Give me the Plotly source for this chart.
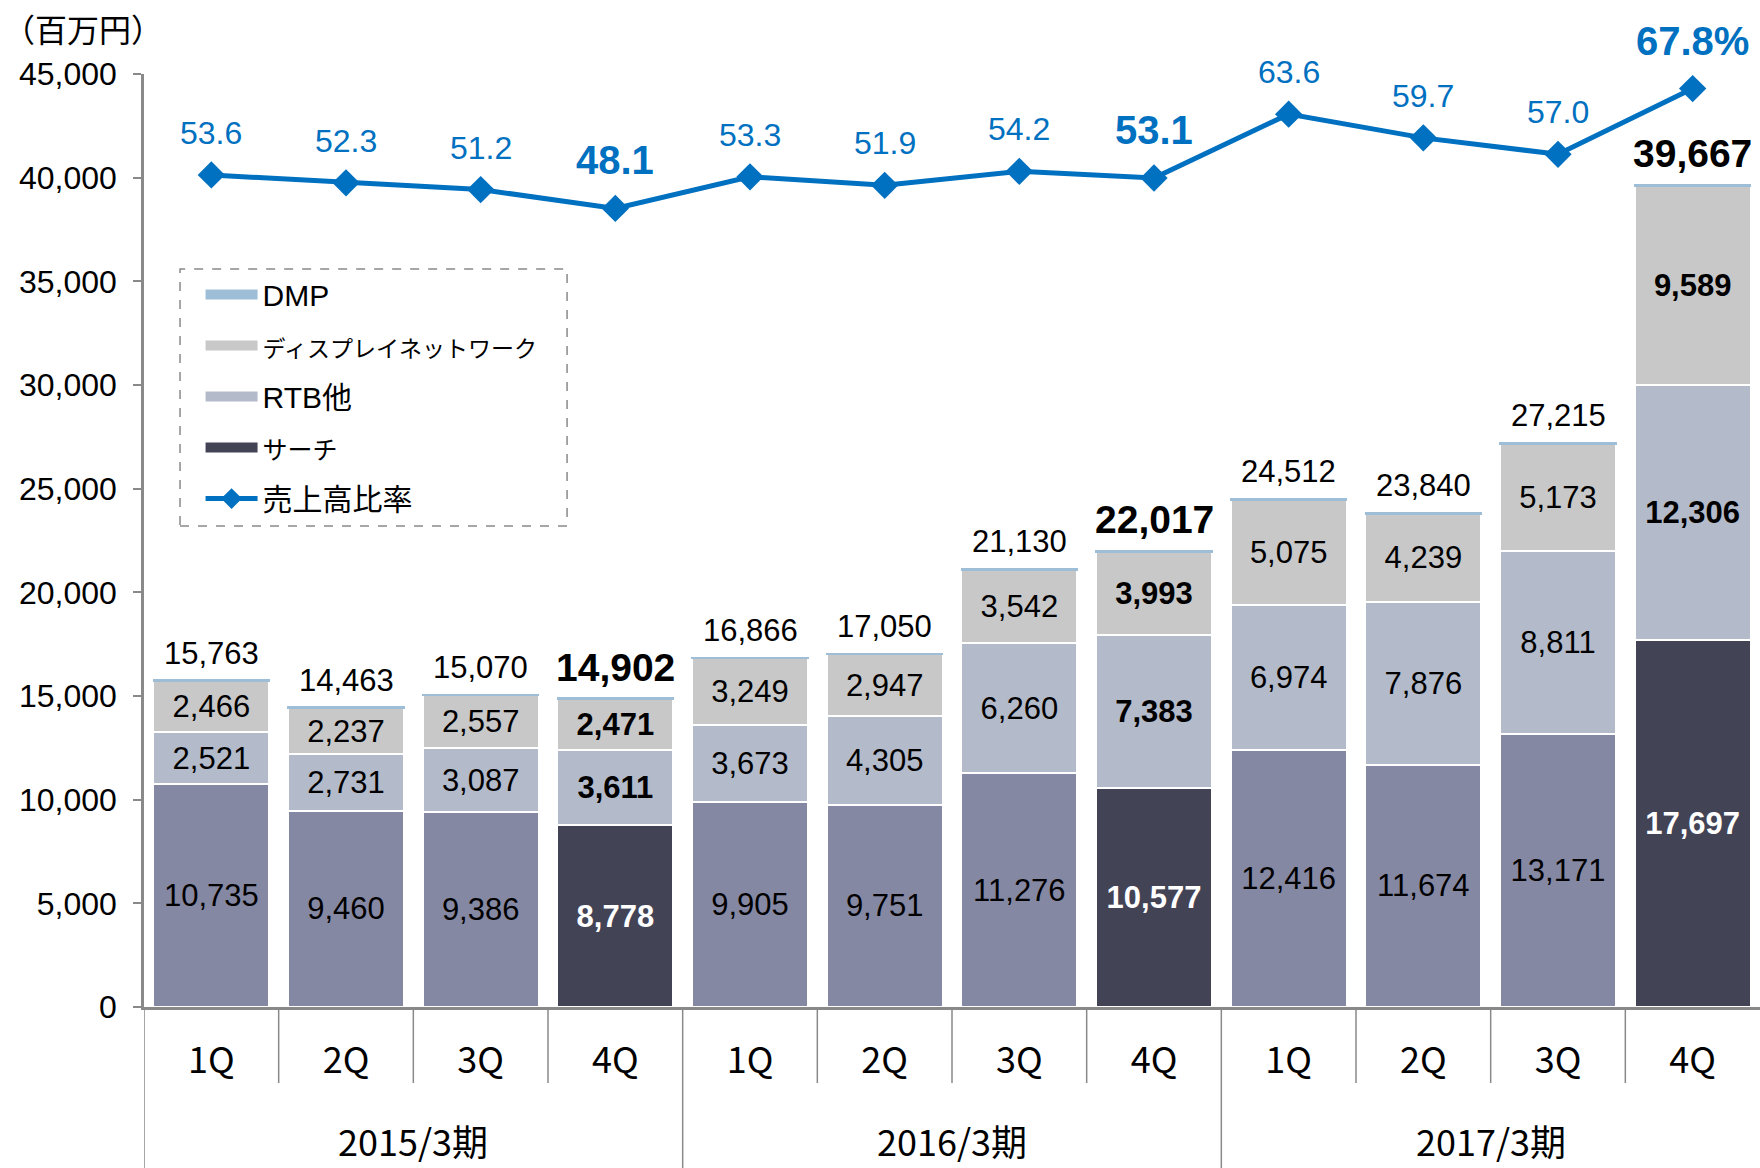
import plotly.graph_objects as go

# ---------------- data ----------------
fiscal_years = ["2015/3期", "2016/3期", "2017/3期"]
quarter_labels = ["1Q", "2Q", "3Q", "4Q"]

search = [10735, 9460, 9386, 8778, 9905, 9751, 11276, 10577, 12416, 11674, 13171, 17697]
rtb = [2521, 2731, 3087, 3611, 3673, 4305, 6260, 7383, 6974, 7876, 8811, 12306]
display = [2466, 2237, 2557, 2471, 3249, 2947, 3542, 3993, 5075, 4239, 5173, 9589]
dmp = [41, 35, 40, 42, 39, 47, 52, 64, 47, 51, 60, 75]
totals = [15763, 14463, 15070, 14902, 16866, 17050, 21130, 22017, 24512, 23840, 27215, 39667]
ratio = [53.6, 52.3, 51.2, 48.1, 53.3, 51.9, 54.2, 53.1, 63.6, 59.7, 57.0, 67.8]

series_names = ["DMP", "ディスプレイネットワーク", "RTB他", "サーチ", "売上高比率"]

# ---------------- derived helpers ----------------
periods = [fy for fy in fiscal_years for _ in quarter_labels]
quarters = [q for _ in fiscal_years for q in quarter_labels]
xcats = [f"{p} {q}" for p, q in zip(periods, quarters)]
hl = [q == "4Q" for q in quarters]
n = len(xcats)

C_SEARCH = "#8588A3"
C_SEARCH_HL = "#434356"
C_RTB = "#B3BAC9"
C_DISP = "#C8C8C8"
C_DMP = "#9DBED6"
C_LINE = "#0070C0"
AX = "#898989"
NUM_FONT = "Arial, Liberation Sans, sans-serif"
JP_FONT = "Noto Sans CJK JP, sans-serif"
LEG_FONT = "Liberation Sans, Noto Sans CJK JP, sans-serif"


def fmt(v, bold):
    s = f"{v:,}"
    return f"<b>{s}</b>" if bold else s


def kana(name, px):
    return f"<span style='font-size:{px}px'>{name}</span>"


fig = go.Figure()

fig.add_trace(go.Bar(
    x=xcats, y=search, name=series_names[3], showlegend=False,
    marker=dict(color=[C_SEARCH_HL if h else C_SEARCH for h in hl],
                line=dict(color="white", width=2)),
    text=[fmt(v, h) for v, h in zip(search, hl)],
    textposition="inside", insidetextanchor="middle", textangle=0,
    textfont=dict(family=NUM_FONT, size=31, color=["white" if h else "black" for h in hl]),
    hoverinfo="skip",
))
fig.add_trace(go.Bar(
    x=xcats, y=rtb, name=series_names[2], showlegend=False,
    marker=dict(color=C_RTB, line=dict(color="white", width=2)),
    text=[fmt(v, h) for v, h in zip(rtb, hl)],
    textposition="inside", insidetextanchor="middle", textangle=0,
    textfont=dict(family=NUM_FONT, size=31, color="black"),
    hoverinfo="skip",
))
fig.add_trace(go.Bar(
    x=xcats, y=display, name=series_names[1], showlegend=False,
    marker=dict(color=C_DISP, line=dict(color="white", width=2)),
    text=[fmt(v, h) for v, h in zip(display, hl)],
    textposition="inside", insidetextanchor="middle", textangle=0,
    textfont=dict(family=NUM_FONT, size=31, color="black"),
    hoverinfo="skip",
))
fig.add_trace(go.Bar(
    x=xcats, y=dmp, name=series_names[0], showlegend=False,
    marker=dict(color=C_DMP, line=dict(color=C_DMP, width=1.5)),
    hoverinfo="skip",
))

fig.add_trace(go.Scatter(
    x=xcats, y=ratio, yaxis="y2", name=series_names[4],
    mode="lines+markers",
    line=dict(color=C_LINE, width=5),
    marker=dict(symbol="diamond", size=21, color=C_LINE),
    legendgroup="g5", legendrank=5,
    hoverinfo="skip",
))

# legend entries (wide rectangular swatches)
legend_labels = [series_names[0], kana(series_names[1], 23), series_names[2], kana(series_names[3], 25)]
for label, col, rank in zip(legend_labels, [C_DMP, C_DISP, C_RTB, C_SEARCH_HL], [1, 2, 3, 4]):
    fig.add_trace(go.Scatter(
        x=[None], y=[None], mode="lines", name=label,
        line=dict(color=col, width=16),
        legendgroup=f"g{rank}", legendrank=rank, hoverinfo="skip",
    ))

annotations = []
# totals above bars
for xc, t, h in zip(xcats, totals, hl):
    annotations.append(dict(
        x=xc, y=t, xref="x", yref="y", text=fmt(t, h), showarrow=False,
        yanchor="middle", yshift=31 if h else 27,
        font=dict(family=NUM_FONT, size=39 if h else 31, color="black"),
    ))
# ratio labels
for i, (xc, r, h) in enumerate(zip(xcats, ratio, hl)):
    s = f"{r:.1f}" + ("%" if i == n - 1 else "")
    annotations.append(dict(
        x=xc, y=r, xref="x", yref="y2", text=f"<b>{s}</b>" if h else s,
        showarrow=False, yanchor="middle", yshift=48 if h else 42,
        font=dict(family=NUM_FONT, size=40 if h else 32, color=C_LINE),
    ))
# fiscal year group labels
nq = len(quarter_labels)
for gi, fy in enumerate(fiscal_years):
    annotations.append(dict(
        x=gi * nq + (nq - 1) / 2, y=-0.1425, xref="x", yref="paper",
        text=fy, showarrow=False, yanchor="middle",
        font=dict(family=JP_FONT, size=36, color="black"),
    ))
# unit label
annotations.append(dict(
    x=-0.0885, y=1.0493, xref="paper", yref="paper", text="（百万円）",
    showarrow=False, xanchor="left", yanchor="middle",
    font=dict(family=JP_FONT, size=32, color="black"),
))

shapes = []
for k in range(n):
    xb = k - 0.5
    if k % nq == 0:
        shapes.append(dict(type="line", xref="x", yref="paper", x0=xb, x1=xb,
                           y0=0, y1=-0.1726, line=dict(color=AX, width=1.5)))
    else:
        shapes.append(dict(type="line", xref="x", yref="paper", x0=xb, x1=xb,
                           y0=0, y1=-0.0815, line=dict(color=AX, width=1.5)))
# dashed legend frame
shapes.append(dict(type="rect", xref="paper", yref="paper",
                   x0=0.0223, x1=0.2618, y0=0.5155, y1=0.791,
                   line=dict(color=AX, width=1.5, dash="dash")))

fig.update_layout(
    width=1760, height=1168,
    margin=dict(l=144, r=0, t=74, b=161),
    paper_bgcolor="white", plot_bgcolor="white",
    barmode="stack", bargap=0.14,
    showlegend=True,
    legend=dict(
        x=0.035, y=0.7915, xanchor="left", yanchor="top",
        bgcolor="rgba(0,0,0,0)", borderwidth=0,
        font=dict(family=LEG_FONT, size=30, color="black"),
        tracegroupgap=9, itemwidth=52,
    ),
    xaxis=dict(
        type="category", tickvals=xcats, ticktext=quarters,
        range=[-0.5, n - 0.5], ticks="", showline=True, linecolor=AX, linewidth=2.5,
        showgrid=False, zeroline=False, ticklabelstandoff=20,
        tickfont=dict(family=JP_FONT, size=36, color="black"),
    ),
    yaxis=dict(
        range=[0, 45000], tickvals=list(range(0, 45001, 5000)), tickformat=",",
        showline=True, linecolor=AX, linewidth=2.5, ticks="outside", ticklen=8,
        tickcolor=AX, tickwidth=2, showgrid=False, zeroline=False,
        ticklabelstandoff=10,
        tickfont=dict(family=NUM_FONT, size=32, color="black"),
    ),
    yaxis2=dict(overlaying="y", range=[-83.2, 70.2], visible=False),
    annotations=annotations,
    shapes=shapes,
)

fig.write_html("out.html", config={"displayModeBar": False},
               post_script="document.body.style.margin='0';")
